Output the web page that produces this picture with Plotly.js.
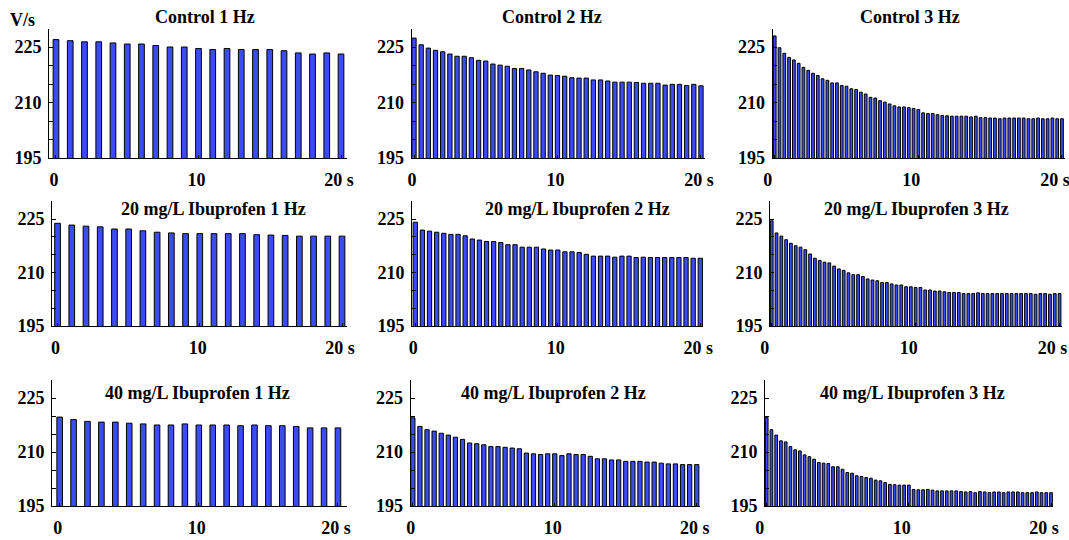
<!DOCTYPE html>
<html><head><meta charset="utf-8">
<script src="https://cdn.plot.ly/plotly-3.0.1.min.js"></script>
<style>html,body{margin:0;padding:0;background:#fff}</style>
</head><body><div id="chart" style="width:1069px;height:540px"></div>
<script>
// ---- time points (s) ----
const time1Hz = [0,1,2,3,4,5,6,7,8,9,10,11,12,13,14,15,16,17,18,19,20];
const time2Hz = [0,0.5,1,1.5,2,2.5,3,3.5,4,4.5,5,5.5,6,6.5,7,7.5,8,8.5,9,9.5,10,10.5,11,11.5,12,12.5,13,13.5,14,14.5,15,15.5,16,16.5,17,17.5,18,18.5,19,19.5,20];
const time3Hz = [0,0.333,0.667,1,1.333,1.667,2,2.333,2.667,3,3.333,3.667,4,4.333,4.667,5,5.333,5.667,6,6.333,6.667,7,7.333,7.667,8,8.333,8.667,9,9.333,9.667,10,10.333,10.667,11,11.333,11.667,12,12.333,12.667,13,13.333,13.667,14,14.333,14.667,15,15.333,15.667,16,16.333,16.667,17,17.333,17.667,18,18.333,18.667,19,19.333,19.667,20];

// ---- Vmax values (V/s) ----
const control1Hz = [227.0,226.7,226.4,226.4,226.1,225.8,225.8,225.4,225.0,225.0,224.6,224.3,224.6,224.3,224.3,224.3,224.0,223.4,223.1,223.4,223.1];
const control2Hz = [227.4,225.6,224.7,224.1,223.7,223.1,222.5,222.5,222.1,221.4,221.2,220.4,220.1,219.8,219.2,219.2,218.8,218.3,217.9,217.4,217.3,217.1,216.7,216.6,216.6,216.1,216.1,215.8,215.5,215.5,215.5,215.4,215.2,215.2,215.2,214.7,214.9,214.9,214.6,214.9,214.5];
const control3Hz = [228.0,224.8,223.3,222.2,221.5,220.6,219.5,218.7,217.9,217.3,216.4,216.0,215.3,215.3,214.6,214.4,213.7,213.5,212.8,212.3,211.4,211.2,210.5,210.1,209.6,209.1,208.8,208.8,208.6,208.4,208.1,207.2,207.0,207.0,206.7,206.5,206.4,206.3,206.3,206.3,206.3,206.1,206.3,205.9,205.9,205.8,205.8,205.6,205.8,205.8,205.8,205.8,205.8,205.6,205.6,205.8,205.6,205.6,205.8,205.6,205.6];
const ibu20_1Hz = [223.8,223.3,223.0,222.8,222.2,222.2,221.7,221.3,221.1,220.9,220.9,220.9,220.9,220.9,220.6,220.5,220.4,220.2,220.2,220.2,220.2];
const ibu20_2Hz = [224.1,221.9,221.6,221.3,221.0,220.7,220.7,220.3,219.4,219.1,218.7,218.7,218.4,217.8,217.8,217.1,217.1,217.1,216.6,216.3,216.3,215.8,215.8,215.6,215.1,214.6,214.6,214.6,214.3,214.6,214.6,214.2,214.3,214.2,214.2,214.2,214.2,214.2,214.2,214.0,214.0];
const ibu20_3Hz = [224.5,221.1,220.2,219.2,218.2,217.5,217.1,216.4,215.2,214.0,213.4,212.9,212.7,211.8,211.0,210.6,209.9,209.4,209.4,208.9,208.2,207.9,207.7,207.2,207.2,206.8,206.5,206.5,206.0,206.0,205.8,205.8,205.1,205.1,204.8,204.8,204.6,204.4,204.4,204.4,204.1,204.1,204.1,204.3,204.1,204.1,204.1,204.1,204.1,204.1,204.1,204.1,204.1,204.1,204.1,203.9,204.1,204.1,203.9,204.1,204.1];
const ibu40_1Hz = [219.7,219.0,218.5,218.3,218.3,218.0,217.8,217.5,217.5,217.8,217.5,217.5,217.5,217.3,217.5,217.3,217.3,217.1,216.7,216.7,216.7];
const ibu40_2Hz = [219.5,217.1,216.2,215.8,215.2,214.7,214.1,213.5,212.5,212.3,212.0,211.5,211.5,211.3,211.1,210.9,209.7,209.5,209.3,209.5,209.5,209.0,209.5,209.3,209.3,208.8,208.1,208.1,207.8,207.8,207.4,207.4,207.4,207.2,207.2,206.9,206.7,206.7,206.5,206.5,206.5];
const ibu40_3Hz = [219.6,216.2,214.7,213.1,212.8,211.5,210.6,210.3,209.2,208.7,208.0,207.1,206.9,206.8,205.9,205.9,205.2,204.3,204.1,203.4,203.2,202.9,202.7,202.2,202.0,201.5,201.0,200.9,200.8,200.8,200.8,199.6,199.5,199.5,199.6,199.4,199.2,199.2,199.2,199.2,199.2,199.0,198.9,199.0,198.7,199.0,198.9,198.7,198.9,198.9,198.7,198.9,198.9,198.9,198.7,198.7,198.7,198.9,198.7,198.7,198.7];

const panelTitles = ['Control 1 Hz','Control 2 Hz','Control 3 Hz',
  '20 mg/L Ibuprofen 1 Hz','20 mg/L Ibuprofen 2 Hz','20 mg/L Ibuprofen 3 Hz',
  '40 mg/L Ibuprofen 1 Hz','40 mg/L Ibuprofen 2 Hz','40 mg/L Ibuprofen 3 Hz'];
const yTickVals = [195,210,225];
const xTickVals = [0,10,20];
const xTickText = ['0','10','20 s'];
const yUnit = 'V/s';

// ---- layout geometry (pixels) ----
const W = 1069, H = 540;
const series = [
  {t: time1Hz, v: control1Hz}, {t: time2Hz, v: control2Hz}, {t: time3Hz, v: control3Hz},
  {t: time1Hz, v: ibu20_1Hz}, {t: time2Hz, v: ibu20_2Hz}, {t: time3Hz, v: ibu20_3Hz},
  {t: time1Hz, v: ibu40_1Hz}, {t: time2Hz, v: ibu40_2Hz}, {t: time3Hz, v: ibu40_3Hz}
];
const barW = [0.40, 0.30, 0.19];
const rows = [[158, 28.5], [326, 201.2], [506, 380]];
const boxes = [
  {L:49, R:347, xr:[-0.49,20.42]}, {L:411.7, R:705, xr:[-0.16,20.28]}, {L:772.7, R:1065, xr:[-0.14,20.21]},
  {L:52, R:347, xr:[-0.39,20.35]}, {L:412, R:703, xr:[-0.23,20.19]}, {L:770, R:1062, xr:[-0.12,20.17]},
  {L:52, R:347, xr:[-0.55,20.65]}, {L:410.7, R:700, xr:[-0.15,20.23]}, {L:765, R:1053, xr:[-0.12,20.14]}
];
const titlePos = [[205,17],[552,17],[910,17],[213,209],[577,209],[916,209],[197,393],[553,393],[912,393]];

const FONT = {family: '"Liberation Serif", "Times New Roman", serif', size: 18, color: '#000', weight: 'bold'};

const traces = [];
const layout = {
  width: W, height: H, margin: {l:0, r:0, t:0, b:0},
  paper_bgcolor: '#fff', plot_bgcolor: 'rgba(0,0,0,0)',
  showlegend: false, font: FONT, annotations: []
};

series.forEach((s, i) => {
  const n = i + 1;
  const col = i % 3, row = Math.floor(i / 3);
  const xa = n === 1 ? 'x' : 'x' + n;
  const ya = n === 1 ? 'y' : 'y' + n;
  traces.push({
    type: 'bar', x: s.t, y: s.v, xaxis: xa, yaxis: ya,
    width: barW[col],
    marker: {color: '#3a4cf2', line: {color: '#000', width: 1}},
    hoverinfo: 'x+y'
  });
  const b = boxes[i];
  const [bot, top] = rows[row];
  layout['xaxis' + (n === 1 ? '' : n)] = {
    domain: [b.L / W, b.R / W], anchor: ya, range: b.xr,
    showline: true, linecolor: '#000', linewidth: 1, mirror: false,
    showgrid: false, zeroline: false,
    tickmode: 'array', tickvals: xTickVals, ticktext: xTickText,
    ticks: 'inside', ticklen: 3, tickcolor: '#000',
    ticklabelstandoff: 5, ticklabelshift: col === 2 ? -7 : -2,
    ticklabeloverflow: 'allow',
    tickfont: FONT, fixedrange: true
  };
  layout['yaxis' + (n === 1 ? '' : n)] = {
    domain: [1 - bot / H, 1 - top / H], anchor: xa, range: [195, 230],
    showline: true, linecolor: '#000', linewidth: 1,
    showgrid: false, zeroline: false,
    tickmode: 'array', tickvals: yTickVals,
    ticks: 'inside', ticklen: 4, tickcolor: '#000',
    minor: {dtick: 5, tick0: 195, ticks: 'inside', ticklen: 4, tickcolor: '#000', showgrid: false},
    ticklabelstandoff: 3,
    tickfont: FONT, fixedrange: true
  };
  layout.annotations.push({
    text: panelTitles[i], xref: 'paper', yref: 'paper',
    x: titlePos[i][0] / W, y: 1 - titlePos[i][1] / H,
    xanchor: 'center', yanchor: 'middle', showarrow: false, font: FONT
  });
});
layout.annotations.push({
  text: yUnit, xref: 'paper', yref: 'paper', x: 22.5 / W, y: 1 - 20 / H,
  xanchor: 'center', yanchor: 'middle', showarrow: false, font: FONT
});

Plotly.newPlot('chart', traces, layout, {displayModeBar: false, staticPlot: true});
</script></body></html>
